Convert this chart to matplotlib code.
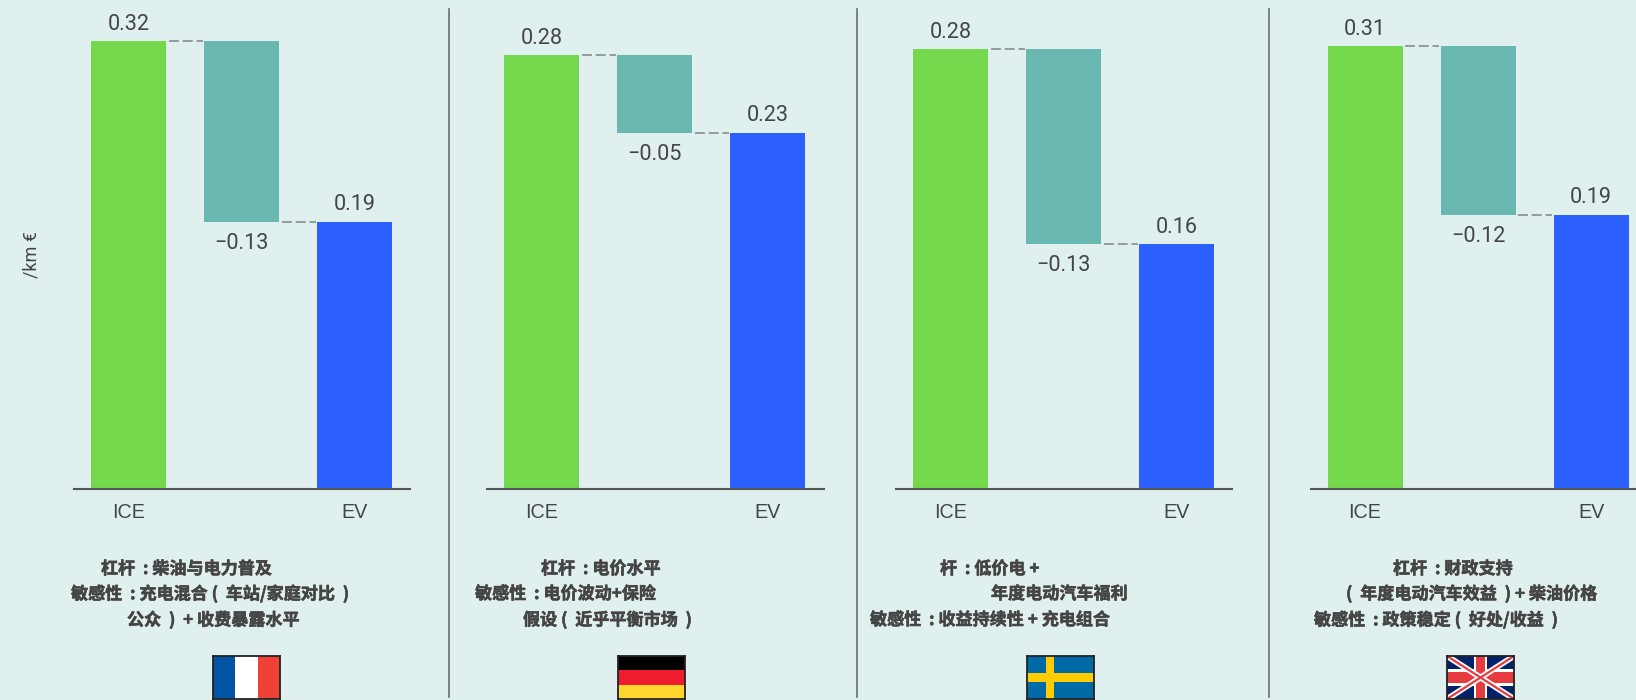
import matplotlib
matplotlib.use('Agg')
import matplotlib.pyplot as plt
import matplotlib.patheffects as pe
from matplotlib.patches import Rectangle

W, H = 1636, 700
BG = '#E0F0EF'
TXT = '#454545'

countries = ['France', 'Germany', 'Sweden', 'UK']
ice = [0.320, 0.280, 0.284, 0.310]
ev = [0.191, 0.230, 0.158, 0.192]
tick_labels = ['ICE', '', 'EV']

levers = [
    ['杠杆  : 柴油与电力普及', '敏感性  : 充电混合 (  车站/家庭对比  )', '公众  )  + 收费暴露水平'],
    ['杠杆  : 电价水平', '敏感性  : 电价波动+保险', '假设 (  近乎平衡市场  )'],
    ['杆  : 低价电 +', '年度电动汽车福利', '敏感性  : 收益持续性 + 充电组合'],
    ['杠杆  : 财政支持', '(  年度电动汽车效益  ) + 柴油价格', '敏感性  : 政策稳定 (  好处/收益  )'],
]

# layout, in reference pixels
axes_left = [74.3, 487.3, 896.1, 1310.8]
axes_w = 336.2
baseline = 489
y_top = [0.3493, 0.3155, 0.3157, 0.3422]
text_x = [[101, 71, 127], [541, 475, 523], [940, 991, 870], [1393, 1346, 1314]]
text_y = [569, 594, 620]
flag_x = [213, 618, 1027, 1447]
sep_x = [449, 857, 1269]


def px_axes(fig, x0, y0, x1, y1):
    return fig.add_axes([x0 / W, 1 - y1 / H, (x1 - x0) / W, (y1 - y0) / H])


def draw_waterfall(ax, i):
    top, end = ice[i], ev[i]
    delta = end - top
    bw = 0.664
    ax.bar(0, top, bw, color='#73D84C')
    ax.bar(1, top - end, bw, bottom=end, color='#69B9B2')
    ax.bar(2, end, bw, color='#2B60FF')
    for x, y in [(0, top), (1, end)]:
        ax.plot([x + bw / 2 + 0.025, x + 1 - bw / 2 - 0.01], [y, y], color='#808585', lw=1.1,
                dashes=(6.5, 2.5))
    for x, y, v, off in [(0, top, top, 12), (1, end, delta, -15.5), (2, end, end, 12)]:
        label = '%.2f' % v
        ax.annotate(label.replace('-', '−'), (x, y), xytext=(0, off), textcoords='offset points',
                    ha='center', va='center', fontsize=15.6, color=TXT, family='Roboto')
    ax.set_xlim(-0.48, 2.495)
    ax.set_ylim(0, y_top[i])
    ax.set_xticks([0, 2])
    ax.set_xticklabels([tick_labels[0], tick_labels[2]], family='Liberation Sans', fontsize=14.2, color=TXT)
    ax.tick_params(axis='x', length=0, pad=9.8)
    ax.set_yticks([])
    for s in ['top', 'left', 'right']:
        ax.spines[s].set_visible(False)
    ax.spines['bottom'].set_color('#555555')
    ax.spines['bottom'].set_linewidth(1.5)
    ax.patch.set_alpha(0)


def draw_flag(fig, name, x0):
    ax = px_axes(fig, x0, 656, x0 + 67, 699)
    ax.set_xlim(0, 6)
    ax.set_ylim(0, 3)
    ax.set_xticks([])
    ax.set_yticks([])
    if name == 'France':
        for k, c in enumerate(['#0055A4', '#FFFFFF', '#EF4135']):
            ax.add_patch(Rectangle((k * 2, 0), 2, 3, color=c, lw=0))
    elif name == 'Germany':
        for k, c in enumerate(['#000000', '#EE1C2E', '#FFD52E']):
            ax.add_patch(Rectangle((0, 2 - k), 6, 1, color=c, lw=0))
    elif name == 'Sweden':
        ax.add_patch(Rectangle((0, 0), 6, 3, color='#006AA7', lw=0))
        ax.add_patch(Rectangle((0, 1.17), 6, 0.66, color='#FECC00', lw=0))
        ax.add_patch(Rectangle((1.72, 0), 0.72, 3, color='#FECC00', lw=0))
    else:
        ax.add_patch(Rectangle((0, 0), 6, 3, color='#012169', lw=0))
        ax.plot([0, 6], [0, 3], color='white', lw=4.2, solid_capstyle='butt')
        ax.plot([0, 6], [3, 0], color='white', lw=4.2, solid_capstyle='butt')
        ax.plot([0, 6], [0, 3], color='#E63B3F', lw=1.6, solid_capstyle='butt')
        ax.plot([0, 6], [3, 0], color='#E63B3F', lw=1.6, solid_capstyle='butt')
        ax.add_patch(Rectangle((2.4, 0), 1.2, 3, color='white', lw=0))
        ax.add_patch(Rectangle((0, 0.9), 6, 1.2, color='white', lw=0))
        ax.add_patch(Rectangle((2.6, 0), 0.8, 3, color='#E63B3F', lw=0))
        ax.add_patch(Rectangle((0, 1.12), 6, 0.76, color='#E63B3F', lw=0))
    for s in ax.spines.values():
        s.set_color('#222222')
        s.set_linewidth(1.3)


fig = plt.figure(figsize=(W / 100, H / 100), dpi=100, facecolor=BG)
thick = [pe.withStroke(linewidth=0.4, foreground=TXT)]

for i, name in enumerate(countries):
    ax = px_axes(fig, axes_left[i], 0, axes_left[i] + axes_w, baseline)
    draw_waterfall(ax, i)
    for j, line in enumerate(levers[i]):
        fig.text(text_x[i][j] / W, 1 - text_y[j] / H, line, ha='left', va='center', fontsize=12.3,
                 fontweight='bold', color=TXT, family=['Noto Sans CJK SC', 'DejaVu Sans'],
                 path_effects=thick)
    draw_flag(fig, name, flag_x[i])

for x in sep_x:
    fig.add_artist(plt.Line2D([x / W, x / W], [1 - 9 / H, 1 - 697 / H], color='#6A6F6F', lw=1.2))

fig.text(32 / W, 1 - 255 / H, '/km €', rotation=90, ha='center', va='center', fontsize=13,
         color=TXT, family='Roboto')

fig.savefig('out.png', dpi=100, facecolor=BG)
